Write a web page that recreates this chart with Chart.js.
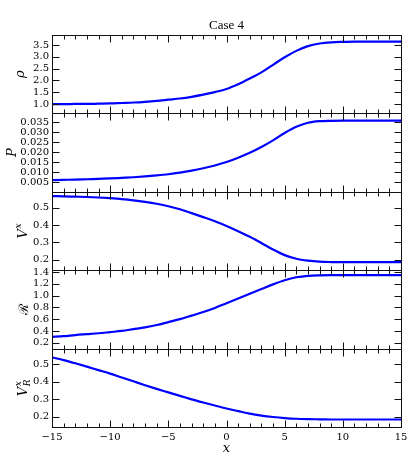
<!DOCTYPE html>
<html><head><meta charset="utf-8">
<script src="https://cdn.jsdelivr.net/npm/chart.js@4/dist/chart.umd.min.js"></script>
<style>html,body{margin:0;padding:0;background:#fff;}#wrap{position:relative;width:415px;height:475px;}</style>
</head><body><div id="wrap"><canvas id="c" width="415" height="475"></canvas></div>
<script>
// ---- data ----
const xs = [-15,-14,-13,-12,-11,-10,-9,-8,-7,-6,-5,-4,-3,-2,-1,0,1,2,3,4,5,6,7,8,9,10,11,12,13,14,15];
const rho = [1.00,1.00,1.01,1.01,1.02, 1.03,1.05,1.07,1.10,1.14, 1.19,1.24,1.31,1.40,1.51, 1.64,1.84,2.08,2.34,2.66, 2.98,3.25,3.45,3.56,3.61, 3.63,3.64,3.64,3.64,3.64, 3.64];
const pres = [0.0060,0.0061,0.0062,0.0064,0.0066, 0.0068,0.0071,0.0074,0.0078,0.0083, 0.0089,0.0097,0.0107,0.0119,0.0133, 0.0150,0.0172,0.0197,0.0226,0.0259, 0.0296,0.0327,0.0347,0.0355,0.0357, 0.0358,0.0358,0.0358,0.0358,0.0358, 0.0358];
const vx = [0.566,0.565,0.563,0.561,0.558, 0.554,0.549,0.542,0.533,0.522, 0.508,0.490,0.468,0.445,0.421, 0.394,0.364,0.332,0.296,0.258, 0.226,0.205,0.194,0.188,0.186, 0.185,0.185,0.185,0.185,0.185, 0.185];
const rad = [0.30,0.31,0.33,0.345,0.36, 0.38,0.40,0.43,0.46,0.50, 0.55,0.60,0.66,0.72,0.79, 0.87,0.95,1.03,1.11,1.19, 1.26,1.31,1.335,1.343,1.345, 1.345,1.345,1.345,1.345,1.345, 1.345];
const vrx = [0.540,0.524,0.506,0.487,0.467, 0.447,0.425,0.403,0.381,0.360, 0.340,0.320,0.300,0.282,0.265, 0.248,0.233,0.218,0.207,0.199, 0.193,0.189,0.187,0.186,0.185, 0.185,0.185,0.185,0.185,0.185, 0.185];

const rhoTicks = ['1.0','1.5','2.0','2.5','3.0','3.5'];
const presTicks = ['0.005','0.010','0.015','0.020','0.025','0.030','0.035'];
const vxTicks = ['0.2','0.3','0.4','0.5'];
const radTicks = ['0.2','0.4','0.6','0.8','1.0','1.2','1.4'];
const vrxTicks = ['0.2','0.3','0.4','0.5'];
const xTicks = ['\u221215','\u221210','\u22125','0','5','10','15'];

const titleText = 'Case 4';
const xLabel = 'x';
const yLabelBase = ['\u03C1','P','V','\u211B','V'];
const yLabelSup  = ['','','x','','x'];
const yLabelSub  = ['','','','','R'];

// ---- chart ----
const tickFont = {family:'DejaVu Serif', size:10};
const panels = [
  {id:'yRho', data:rho, ticks:rhoTicks, min:0.61, max:3.92, lx:23.5},
  {id:'yP',   data:pres, ticks:presTicks, min:0.0001, max:0.0394, lx:15.5},
  {id:'yV',   data:vx, ticks:vxTicks, min:0.139, max:0.591, lx:27},
  {id:'yR',   data:rad, ticks:radTicks, min:0.10, max:1.43, lx:28},
  {id:'yVR',  data:vrx, ticks:vrxTicks, min:0.142, max:0.59, lx:26.5}
];

const scales = {
  x: {
    type:'linear', position:'bottom', min:-15, max:15,
    afterBuildTicks: s => { s.ticks = xTicks.map(t => ({value: parseFloat(t.replace('\u2212','-'))})); },
    ticks: {autoSkip:false, maxRotation:0, padding:4, color:'#000', font:tickFont,
            callback:(v,i) => xTicks[i]},
    grid:{display:false, drawTicks:false}, border:{display:false},
    title:{display:true, text:xLabel, color:'#000',
           font:{family:'DejaVu Serif', size:13, style:'italic'}, padding:{top:0, bottom:19}},
    afterFit: s => { s.height = 48; }
  }
};
panels.forEach((p, i) => {
  scales[p.id] = {
    type:'linear', position:'left', stack:'panels', stackWeight:1, weight: panels.length - i,
    min:p.min, max:p.max,
    afterBuildTicks: s => { s.ticks = p.ticks.map(t => ({value: parseFloat(t)})); },
    ticks: {autoSkip:false, padding:3, color:'#000', font:tickFont,
            callback:(v,idx) => p.ticks[idx]},
    grid:{display:false, drawTicks:false}, border:{display:false},
    afterFit: s => { s.width = 52; }
  };
});

const datasets = panels.map(p => ({
  data: xs.map((x, i) => ({x, y: p.data[i]})),
  yAxisID: p.id, xAxisID: 'x',
  borderColor:'#0000ff', borderWidth:2.2, pointRadius:0, clip:0,
  cubicInterpolationMode:'monotone', fill:false
}));

function line(ctx, x1, y1, x2, y2) { ctx.beginPath(); ctx.moveTo(x1, y1); ctx.lineTo(x2, y2); ctx.stroke(); }

const framePlugin = {
  id:'frame',
  afterDatasetsDraw(chart) {
    const ctx = chart.ctx, xS = chart.scales.x;
    const L = Math.round(chart.chartArea.left) + 0.5, R = Math.round(chart.chartArea.right) + 0.5;
    ctx.save();
    ctx.strokeStyle = '#111'; ctx.lineWidth = 1;
    panels.forEach(p => {
      const s = chart.scales[p.id];
      const T = Math.round(s.top) + 0.5, B = Math.round(s.bottom) + 0.5;
      ctx.strokeRect(L, T, R - L, B - T);
      s.ticks.forEach(t => {
        const py = Math.round(s.getPixelForValue(t.value)) + 0.5;
        line(ctx, L, py, L + 7, py); line(ctx, R - 7, py, R, py);
      });
      for (let v = xS.min; v <= xS.max; v++) {
        const px = Math.round(xS.getPixelForValue(v)) + 0.5;
        const len = (v % 5 === 0) ? 7 : 4;
        line(ctx, px, T, px, T + len); line(ctx, px, B - len, px, B);
      }
    });
    ctx.restore();
  },
  afterDraw(chart) {
    const ctx = chart.ctx;
    ctx.save();
    ctx.fillStyle = '#000';
    panels.forEach((p, i) => {
      const s = chart.scales[p.id];
      const cy = (s.top + s.bottom) / 2;
      const baseFont = (yLabelBase[i] === '\u211B' ? '' : 'italic ') + '13px "DejaVu Serif"';
      const smallFont = 'italic 9px "DejaVu Serif"';
      ctx.font = baseFont;
      const wb = ctx.measureText(yLabelBase[i]).width;
      ctx.font = smallFont;
      const ws = Math.max(ctx.measureText(yLabelSup[i]).width, ctx.measureText(yLabelSub[i]).width);
      const total = wb + (ws ? ws + 0.5 : 0);
      ctx.translate(p.lx, cy);
      ctx.rotate(-Math.PI / 2);
      ctx.textBaseline = 'alphabetic'; ctx.textAlign = 'left';
      let u = -total / 2;
      ctx.font = baseFont;
      ctx.fillText(yLabelBase[i], u, 0);
      u += wb + 0.5;
      ctx.font = smallFont;
      if (yLabelSup[i]) ctx.fillText(yLabelSup[i], u, -6);
      if (yLabelSub[i]) ctx.fillText(yLabelSub[i], u, 3);
      ctx.setTransform(1, 0, 0, 1, 0, 0);
    });
    ctx.restore();
  }
};

new Chart(document.getElementById('c'), {
  type:'line',
  data:{datasets},
  options:{
    responsive:false, animation:false,
    layout:{padding:{left:0, right:14, top:0, bottom:0}},
    plugins:{
      legend:{display:false}, tooltip:{enabled:false},
      title:{display:true, text:titleText, color:'#000', fullSize:false,
             font:{family:'Liberation Serif', size:13, weight:'normal'}, padding:{top:18, bottom:1.4}}
    },
    scales
  },
  plugins:[framePlugin]
});
</script>
</body></html>
